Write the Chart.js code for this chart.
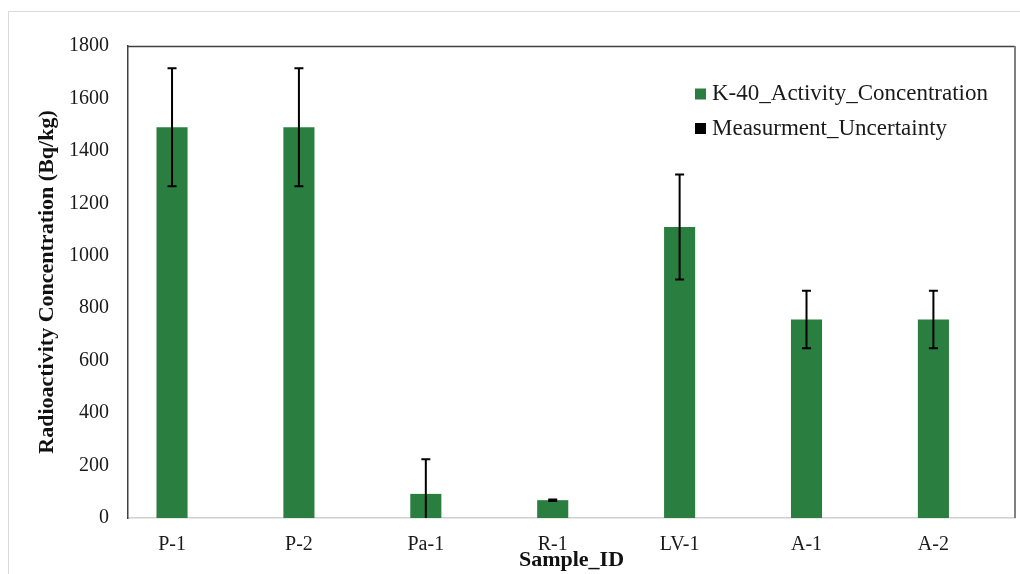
<!DOCTYPE html>
<html>
<head>
<meta charset="utf-8">
<script src="https://cdn.jsdelivr.net/npm/chart.js@4"></script>
<style>
  html, body { margin: 0; padding: 0; background: #fff; }
  canvas { display: block; }
</style>
</head>
<body>
<canvas id="k40Chart" width="1020" height="574"></canvas>
<script>
// sample ids on the x axis
const sampleIds = ['P-1', 'P-2', 'Pa-1', 'R-1', 'LV-1', 'A-1', 'A-2'];
// K-40 activity (Bq/kg) and its measurement uncertainty
const k40Activity = [1490, 1490, 92, 68, 1110, 757, 757];
const measUncertainty = [225, 225, 132, 3, 200, 110, 110];
const seriesNames = ['K-40_Activity_Concentration', 'Measurment_Uncertainty'];
const yTicks = [0, 200, 400, 600, 800, 1000, 1200, 1400, 1600, 1800];

const serif = "'Liberation Serif', 'Times New Roman', serif";
const barGreen = '#2a7e3f';

// light outer frame of the figure
const outerFrame = {
  id: 'outerFrame',
  beforeDraw(chart) {
    const ctx = chart.ctx;
    ctx.save();
    ctx.strokeStyle = '#d9d9d9';
    ctx.lineWidth = 1;
    ctx.strokeRect(8.5, 11.5, 1100, 700);
    ctx.restore();
  }
};

// error bars drawn with the y scale
const errorBars = {
  id: 'errorBars',
  afterDatasetsDraw(chart) {
    const ctx = chart.ctx;
    const y = chart.scales.y;
    const area = chart.chartArea;
    const meta = chart.getDatasetMeta(0);
    ctx.save();
    ctx.strokeStyle = '#000';
    ctx.lineWidth = 2;
    meta.data.forEach((bar, i) => {
      const v = k40Activity[i];
      const e = measUncertainty[i];
      const top = Math.max(y.getPixelForValue(v + e), area.top);
      const bot = Math.min(y.getPixelForValue(v - e), area.bottom);
      const x = bar.x;
      ctx.beginPath();
      ctx.moveTo(x, top);
      ctx.lineTo(x, bot);
      ctx.moveTo(x - 4.5, top);
      ctx.lineTo(x + 4.5, top);
      if (v - e > 0) {
        ctx.moveTo(x - 4.5, bot);
        ctx.lineTo(x + 4.5, bot);
      }
      ctx.stroke();
    });
    ctx.restore();
  }
};

// plot frame (top + right) and legend inside the plot
const frameAndLegend = {
  id: 'frameAndLegend',
  afterDraw(chart) {
    const ctx = chart.ctx;
    const a = chart.chartArea;
    ctx.save();
    ctx.lineWidth = 1.5;
    ctx.strokeStyle = '#404040';
    ctx.beginPath();
    ctx.moveTo(a.left, a.top + 0.5);
    ctx.lineTo(a.right, a.top + 0.5);
    ctx.stroke();
    ctx.strokeStyle = '#808080';
    ctx.lineWidth = 2;
    ctx.beginPath();
    ctx.moveTo(a.right, a.top);
    ctx.lineTo(a.right, a.bottom);
    ctx.stroke();

    const colors = [barGreen, '#000'];
    ctx.font = '23px ' + serif;
    ctx.textBaseline = 'middle';
    ctx.textAlign = 'left';
    seriesNames.forEach((name, i) => {
      const cy = 94 + i * 34.5;
      ctx.fillStyle = colors[i];
      ctx.fillRect(695, cy - 5.5, 11, 11);
      ctx.fillStyle = '#1a1a1a';
      ctx.fillText(name, 712, cy);
    });
    ctx.restore();
  }
};

new Chart(document.getElementById('k40Chart'), {
  type: 'bar',
  data: {
    datasets: [{
      label: seriesNames[0],
      data: k40Activity.map((v, i) => ({ x: i, y: v })),
      backgroundColor: barGreen,
      borderWidth: 0,
      categoryPercentage: 1,
      barPercentage: 0.245
    }]
  },
  options: {
    responsive: false,
    animation: false,
    layout: { padding: { top: 46, right: 5, left: 0, bottom: 0 } },
    plugins: {
      legend: { display: false },
      tooltip: { enabled: false }
    },
    scales: {
      x: {
        type: 'linear',
        min: -0.347,
        max: 6.643,
        offset: false,
        afterBuildTicks(scale) { scale.ticks = sampleIds.map((s, i) => ({ value: i })); },
        grid: { display: false, drawTicks: false },
        border: { color: '#d0d0d0', width: 1.5 },
        ticks: {
          color: '#1a1a1a',
          font: { family: serif, size: 20 },
          padding: 15,
          maxRotation: 0,
          autoSkip: false,
          callback: v => sampleIds[v]
        },
        title: {
          display: true,
          text: 'Sample_ID',
          color: '#111',
          font: { family: serif, size: 22, weight: 'bold' },
          padding: { top: 0, bottom: 0 }
        },
        afterFit(scale) { scale.height = 56; }
      },
      y: {
        min: 0,
        max: 1800,
        afterBuildTicks(scale) { scale.ticks = yTicks.map(v => ({ value: v })); },
        grid: { display: false, drawTicks: false },
        border: { color: '#404040', width: 1.5 },
        ticks: {
          color: '#1a1a1a',
          font: { family: serif, size: 20 },
          padding: 19,
          callback: v => String(v)
        },
        title: {
          display: true,
          text: 'Radioactivity Concentration (Bq/kg)',
          color: '#111',
          font: { family: serif, size: 22, weight: 'bold' },
          padding: { top: 34, bottom: 0 }
        },
        afterFit(scale) { scale.width = 128; }
      }
    }
  },
  plugins: [outerFrame, errorBars, frameAndLegend]
});
</script>
</body>
</html>
